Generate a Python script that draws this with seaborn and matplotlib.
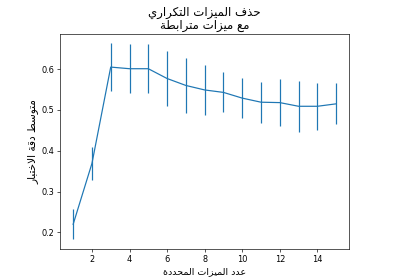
import matplotlib
matplotlib.use("Agg")
import matplotlib.pyplot as plt
import seaborn as sns
import pandas as pd

n_features = [1, 2, 3, 4, 5, 6, 7, 8, 9, 10, 11, 12, 13, 14, 15]
mean_score = [0.220, 0.369, 0.605, 0.601, 0.601, 0.577, 0.560, 0.549, 0.543,
              0.529, 0.519, 0.518, 0.509, 0.509, 0.515]
std_score = [0.037, 0.041, 0.058, 0.060, 0.060, 0.068, 0.067, 0.062, 0.049,
             0.049, 0.050, 0.057, 0.063, 0.057, 0.050]

title_text = "حذف الميزات التكراري\nمع ميزات مترابطة"
xlabel_text = "عدد الميزات المحددة"
ylabel_text = "متوسط دقة الاختبار"

# --- minimal Arabic shaping (presentation forms) + visual ordering ---
DUAL = {'ب': 0xFE8F, 'ت': 0xFE95, 'ح': 0xFEA1, 'خ': 0xFEA5, 'س': 0xFEB1,
        'ط': 0xFEC1, 'ع': 0xFEC9, 'ف': 0xFED1, 'ق': 0xFED5, 'ك': 0xFED9,
        'ل': 0xFEDD, 'م': 0xFEE1, 'ي': 0xFEF1}
RIGHT = {'ا': 0xFE8D, 'ة': 0xFE93, 'د': 0xFEA9, 'ذ': 0xFEAB, 'ر': 0xFEAD,
         'ز': 0xFEAF, 'و': 0xFEED, 'LA': 0xFEFB}


def shape_word(word):
    toks = []
    i = 0
    while i < len(word):
        if word[i] == 'ل' and i + 1 < len(word) and word[i + 1] == 'ا':
            toks.append('LA')
            i += 2
        else:
            toks.append(word[i])
            i += 1
    out = []
    for k, t in enumerate(toks):
        prev_j = k > 0 and toks[k - 1] in DUAL
        next_j = t in DUAL and k + 1 < len(toks) and (toks[k + 1] in DUAL or toks[k + 1] in RIGHT)
        if t in DUAL:
            b = DUAL[t]
            code = b + (3 if prev_j and next_j else 1 if prev_j else 2 if next_j else 0)
        elif t in RIGHT:
            b = RIGHT[t]
            code = b + (1 if prev_j else 0)
        else:
            out.append(t)
            continue
        out.append(chr(code))
    return ''.join(out)


def ar(text):
    lines = []
    for line in text.split('\n'):
        shaped = ' '.join(shape_word(w) for w in line.split(' '))
        lines.append(shaped[::-1])
    return '\n'.join(lines)


S = 280 / 480  # scale of a default 6.4x4.8 figure fitted into 400x280
plt.rcParams['font.family'] = ['DejaVu Sans']
plt.rcParams.update({
    'font.size': 10 * S,
    'axes.linewidth': 0.8 * S,
    'xtick.major.size': 3.5 * S, 'ytick.major.size': 3.5 * S,
    'xtick.major.width': 0.8 * S, 'ytick.major.width': 0.8 * S,
    'xtick.major.pad': 3.5 * S, 'ytick.major.pad': 3.5 * S,
    'axes.labelpad': 4 * S, 'axes.titlepad': 6 * S,
    'axes.edgecolor': 'black',
})

df = pd.DataFrame({"n": n_features, "score": mean_score, "std": std_score})

fig = plt.figure(figsize=(4, 2.8), dpi=100)
ax = fig.add_axes([0.15, 0.11, 0.7233, 0.77])
ax.errorbar(df["n"], df["score"], yerr=df["std"], fmt='none',
            ecolor='#1f77b4', elinewidth=1.5 * S)
sns.lineplot(data=df, x="n", y="score", ax=ax, color='#1f77b4', linewidth=1.5 * S)
ax.set_title(ar(title_text), fontsize=8.5, linespacing=1.0)
ax.set_xlabel(ar(xlabel_text), fontsize=6.8)
ax.set_ylabel(ar(ylabel_text), fontsize=7.6)
ax.tick_params(labelsize=10 * S)
fig.savefig("out.png", dpi=100)
